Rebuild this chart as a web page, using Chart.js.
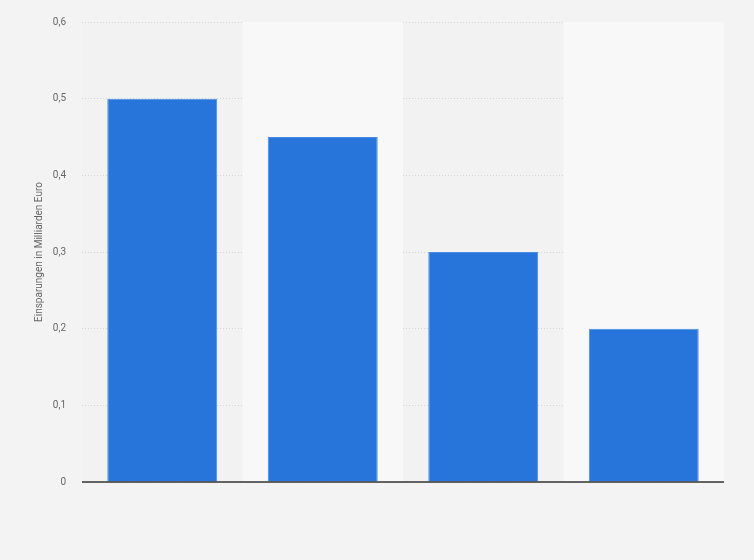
<!DOCTYPE html>
<html lang="de">
	<head>
		<meta charset="UTF-8" />
		<title>Einsparungen</title>
		<style>
			html, body { margin: 0; padding: 0; background: #f3f3f3; }
			#chartContainer { width: 754px; height: 560px; }
		</style>
	</head>
	<body>
		<div id="chartContainer">
			<canvas id="myChart"></canvas>
		</div>
		<script src="https://cdn.jsdelivr.net/npm/chart.js"></script>
		<script>
			// no category labels are shown in the original
			var categories = ['', '', '', ''];
			var values = [0.5, 0.45, 0.3, 0.2];
			var yTicks = [0, 0.1, 0.2, 0.3, 0.4, 0.5, 0.6];
			var yTitle = 'Einsparungen in Milliarden Euro';

			// alternate light columns behind the bars
			var bands = {
				id: 'bands',
				beforeDatasetsDraw: function (chart) {
					var ctx = chart.ctx;
					var area = chart.chartArea;
					var x = chart.scales.x;
					ctx.save();
					for (var i = 0; i < categories.length; i++) {
						if (i % 2 == 0) continue;
						var l = i == 0 ? area.left : (x.getPixelForValue(i - 1) + x.getPixelForValue(i)) / 2;
						var r = i == categories.length - 1 ? area.right : (x.getPixelForValue(i) + x.getPixelForValue(i + 1)) / 2;
						ctx.fillStyle = '#f8f8f8';
						ctx.fillRect(l, area.top, r - l, area.bottom - area.top);
					}
					ctx.restore();
				},
				beforeDraw: function (chart) {
					var ctx = chart.ctx;
					var area = chart.chartArea;
					ctx.save();
					ctx.fillStyle = '#f2f2f2';
					ctx.fillRect(area.left, area.top, area.right - area.left, area.bottom - area.top);
					ctx.restore();
				}
			};

			// grid behind bars, axis line drawn after
			var zeroLine = {
				id: 'zeroLine',
				afterDatasetsDraw: function (chart) {
					var ctx = chart.ctx;
					var area = chart.chartArea;
					var y = chart.scales.y.getPixelForValue(0);
					ctx.save();
					ctx.strokeStyle = '#333333';
					ctx.lineWidth = 1.5;
					ctx.beginPath();
					ctx.moveTo(area.left, y);
					ctx.lineTo(area.right, y);
					ctx.stroke();
					ctx.restore();
				}
			};

			Chart.defaults.font.family = 'Roboto, "Liberation Sans", Arial, sans-serif';
			Chart.defaults.animation = false;

			new Chart(document.getElementById('myChart'), {
				type: 'bar',
				data: {
					labels: categories,
					datasets: [
						{
							data: values,
							backgroundColor: '#2775db',
							borderColor: '#4a8de6',
							borderWidth: { left: 1, right: 1, top: 1, bottom: 0 },
							categoryPercentage: 0.685,
							barPercentage: 1
						}
					]
				},
				options: {
					responsive: true,
					maintainAspectRatio: false,
					layout: { padding: { top: 19, right: 30, bottom: 78, left: 0 } },
					plugins: {
						legend: { display: false },
						tooltip: { enabled: false }
					},
					scales: {
						x: {
							grid: { display: false, drawTicks: false },
							border: { display: false },
							ticks: { display: false }
						},
						y: {
							min: 0,
							max: 0.6,
							afterFit: function (scale) { scale.width = 82; },
							afterBuildTicks: function (scale) {
								scale.ticks = yTicks.map(function (v) { return { value: v }; });
							},
							grid: {
								color: '#d6d6d6',
								drawTicks: false,
								lineWidth: 1
							},
							border: { display: false, dash: [1, 2] },
							ticks: {
								padding: 16,
								color: '#666666',
								font: { size: 10 },
								callback: function (v) { return String(v).replace('.', ','); }
							},
							title: {
								display: true,
								text: yTitle,
								color: '#666666',
								font: { size: 10 },
								padding: { top: 33, bottom: 0 }
							}
						}
					}
				},
				plugins: [bands, zeroLine]
			});
		</script>
	</body>
</html>
